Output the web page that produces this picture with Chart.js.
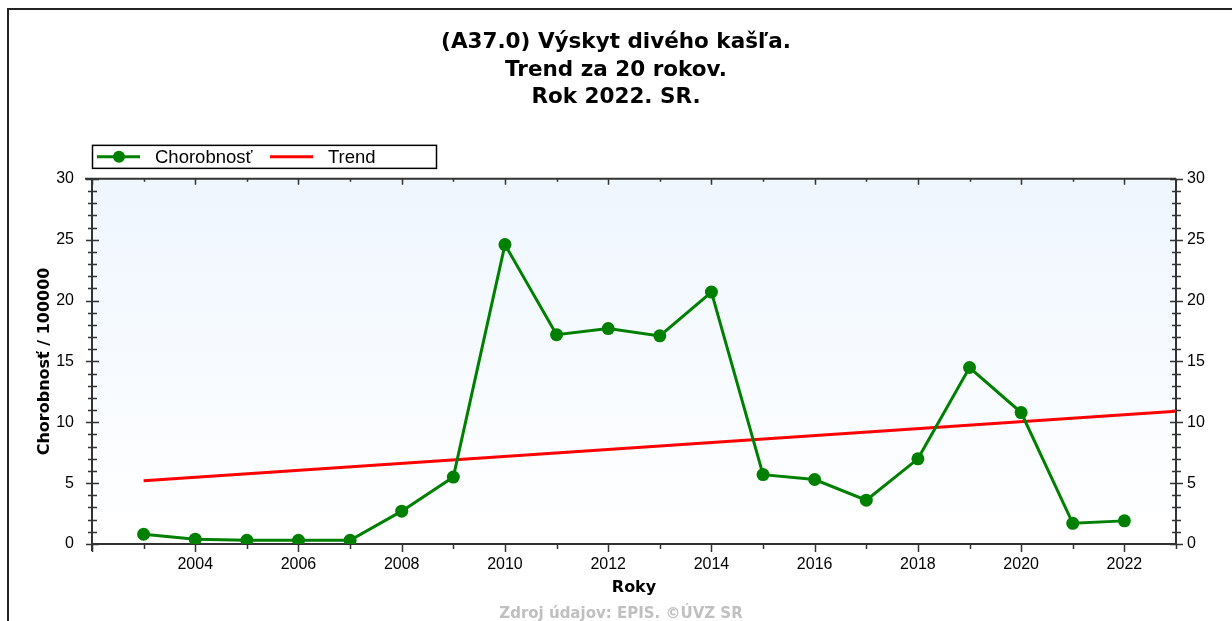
<!DOCTYPE html>
<html>
<head>
<meta charset="utf-8">
<title>Výskyt divého kašľa</title>
<script src="https://cdn.jsdelivr.net/npm/chart.js@4.4.0/dist/chart.umd.min.js"></script>
<style>
  html, body { margin: 0; padding: 0; background: #fff; }
  #wrap { width: 1232px; height: 621px; }
</style>
</head>
<body>
<div id="wrap"><canvas id="myChart" width="1232" height="621"></canvas></div>
<script>
// udaje z grafu
const titleLines = ['(A37.0) Výskyt divého kašľa.', 'Trend za 20 rokov.', 'Rok 2022. SR.'];
const years = [2003, 2004, 2005, 2006, 2007, 2008, 2009, 2010, 2011, 2012,
               2013, 2014, 2015, 2016, 2017, 2018, 2019, 2020, 2021, 2022];
const incidence = [0.8, 0.4, 0.3, 0.3, 0.3, 2.7, 5.5, 24.6, 17.2, 17.7,
                   17.1, 20.7, 5.7, 5.3, 3.6, 7.0, 14.5, 10.8, 1.7, 1.9];
const trendYears = [2003, 2023];
const trendValues = [5.2, 10.9];
const xTickYears = [2004, 2006, 2008, 2010, 2012, 2014, 2016, 2018, 2020, 2022];
const yTickValues = [0, 5, 10, 15, 20, 25, 30];
const footerText = 'Zdroj údajov: EPIS. ©ÚVZ SR';

const tickFont = { family: 'Liberation Sans', size: 16 };
const axisTitleFont = { family: 'DejaVu Sans', size: 16, weight: 'bold' };
const axisColor = '#333';

// pozadie grafu a ramik
const backgroundPlugin = {
  id: 'background',
  beforeDraw(chart) {
    const { ctx, chartArea: a } = chart;
    ctx.save();
    const g = ctx.createLinearGradient(0, a.top, 0, a.bottom);
    g.addColorStop(0, 'rgb(238,246,254)');
    g.addColorStop(1, '#ffffff');
    ctx.fillStyle = g;
    ctx.fillRect(a.left, a.top, a.right - a.left, a.bottom - a.top);
    ctx.strokeStyle = '#222';
    ctx.lineWidth = 2;
    ctx.beginPath();
    ctx.moveTo(8, chart.height);
    ctx.lineTo(8, 9);
    ctx.lineTo(chart.width, 9);
    ctx.stroke();
    ctx.restore();
  }
};

// osi s dielikmi
const axesPlugin = {
  id: 'axes',
  beforeDatasetsDraw(chart) {
    const { ctx, chartArea: a, scales } = chart;
    const x = scales.x, y = scales.y;
    ctx.save();
    ctx.strokeStyle = axisColor;
    ctx.lineWidth = 2;
    ctx.beginPath();
    ctx.moveTo(a.left, a.top); ctx.lineTo(a.left, a.bottom + 7);
    ctx.moveTo(a.right, a.top); ctx.lineTo(a.right, a.bottom + 1);
    ctx.moveTo(a.left, a.bottom); ctx.lineTo(a.right, a.bottom);
    ctx.moveTo(a.left - 7, a.top); ctx.lineTo(a.right, a.top);
    ctx.stroke();

    ctx.lineWidth = 1.5;
    ctx.beginPath();
    for (let v = y.min; v <= y.max; v++) {
      const py = Math.round(y.getPixelForValue(v)) + 0.5;
      const major = v % 5 === 0;
      ctx.moveTo(a.left - (major ? 6 : 4), py); ctx.lineTo(a.left + (major ? 7 : 5), py);
      ctx.moveTo(a.right - (major ? 6 : 4), py); ctx.lineTo(a.right + (major ? 7 : 5), py);
    }
    for (let v = x.min; v <= x.max; v++) {
      const px = Math.round(x.getPixelForValue(v)) + 0.5;
      const major = v % 2 === 0;
      ctx.moveTo(px, a.bottom); ctx.lineTo(px, a.bottom + (major ? 8 : 5));
      ctx.moveTo(px, a.top); ctx.lineTo(px, a.top + (major ? 6 : 3));
    }
    ctx.stroke();
    ctx.restore();
  }
};

// legenda v ramceku a zdroj
const legendPlugin = {
  id: 'boxLegend',
  afterDraw(chart) {
    const { ctx, chartArea: a } = chart;
    const ds = chart.data.datasets;
    const top = a.top - 34, left = a.left;
    const cy = top + 12;
    ctx.save();
    ctx.strokeStyle = '#000';
    ctx.lineWidth = 1.5;
    ctx.strokeRect(left + 0.5, top + 0.5, 344, 23);

    ctx.lineWidth = 3;
    ctx.strokeStyle = ds[0].borderColor;
    ctx.beginPath(); ctx.moveTo(left + 5, cy); ctx.lineTo(left + 48, cy); ctx.stroke();
    ctx.fillStyle = ds[0].borderColor;
    ctx.beginPath(); ctx.arc(left + 27, cy, 6, 0, Math.PI * 2); ctx.fill();
    ctx.strokeStyle = ds[1].borderColor;
    ctx.beginPath(); ctx.moveTo(left + 178, cy); ctx.lineTo(left + 221, cy); ctx.stroke();

    ctx.fillStyle = '#000';
    ctx.font = '18.5px "Liberation Sans"';
    ctx.textBaseline = 'middle';
    ctx.fillText(ds[0].label, left + 63, cy + 1);
    ctx.fillText(ds[1].label, left + 236, cy + 1);

    ctx.fillStyle = '#c0c0c0';
    ctx.font = 'bold 15px "DejaVu Sans"';
    ctx.textAlign = 'center';
    ctx.fillText(footerText, 621, 614);
    ctx.restore();
  }
};

const ctx = document.getElementById('myChart');
const myChart = new Chart(ctx, {
  type: 'line',
  data: {
    datasets: [{
      label: 'Chorobnosť',
      data: years.map((yr, i) => ({ x: yr, y: incidence[i] })),
      borderColor: '#008000',
      backgroundColor: '#008000',
      borderWidth: 3,
      pointRadius: 6.5,
      pointBorderWidth: 0,
      pointBackgroundColor: '#008000',
      lineTension: 0,
      yAxisID: 'y'
    }, {
      label: 'Trend',
      data: trendYears.map((yr, i) => ({ x: yr, y: trendValues[i] })),
      borderColor: '#ff0000',
      backgroundColor: '#ff0000',
      borderWidth: 3,
      pointRadius: 0,
      lineTension: 0,
      yAxisID: 'y'
    }]
  },
  options: {
    responsive: false,
    animation: false,
    devicePixelRatio: 1,
    layout: { padding: 0 },
    plugins: {
      legend: { display: false },
      tooltip: { enabled: false },
      title: {
        display: true,
        text: titleLines,
        color: '#000',
        font: { family: 'DejaVu Sans', size: 21.5, weight: 'bold', lineHeight: 1.3 },
        padding: { top: 28, bottom: 67 }
      }
    },
    scales: {
      x: {
        type: 'linear',
        min: 2002,
        max: 2023,
        afterFit(s) { s.height = 77; },
        afterBuildTicks(s) { s.ticks = xTickYears.map(v => ({ value: v })); },
        grid: { display: false, drawTicks: false },
        border: { display: false },
        ticks: { padding: 11, font: tickFont, color: '#000', autoSkip: false, maxRotation: 0, callback: v => String(v) },
        title: { display: true, text: 'Roky', color: '#000', font: axisTitleFont, padding: { top: 0, bottom: 24 } }
      },
      y: {
        position: 'left',
        min: 0,
        max: 30,
        afterFit(s) { s.width = 92; },
        afterBuildTicks(s) { s.ticks = yTickValues.map(v => ({ value: v })); },
        grid: { display: false, drawTicks: false },
        border: { display: false },
        ticks: { padding: 18, font: tickFont, color: '#000' },
        title: { display: true, text: 'Chorobnosť / 100000', color: '#000', font: axisTitleFont, padding: { top: 35, bottom: 0 } }
      },
      y2: {
        position: 'right',
        min: 0,
        max: 30,
        afterFit(s) { s.width = 56; },
        afterBuildTicks(s) { s.ticks = yTickValues.map(v => ({ value: v })); },
        grid: { display: false, drawTicks: false },
        border: { display: false },
        ticks: { padding: 11, font: tickFont, color: '#000' }
      }
    }
  },
  plugins: [backgroundPlugin, axesPlugin, legendPlugin]
});
</script>
</body>
</html>
